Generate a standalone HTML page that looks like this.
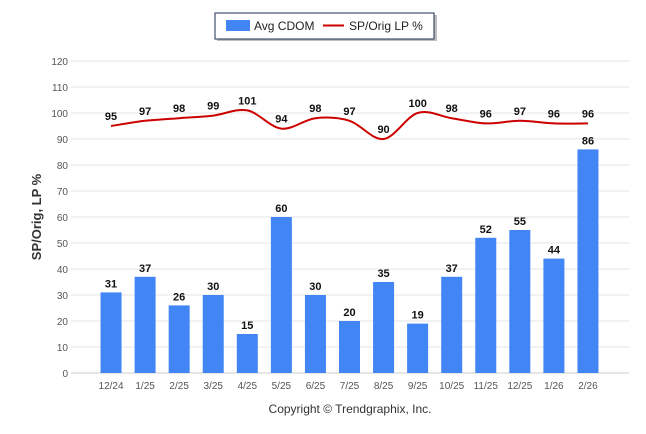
<!DOCTYPE html>
<html><head><meta charset="utf-8"><style>
body{margin:0;background:#fff;font-family:"Liberation Sans",sans-serif}
svg{display:block}
</style></head><body>
<svg id="chart" width="646" height="434">
<g>
<rect x="217" y="15" width="220" height="26" fill="#444" opacity="0.35"/>
<rect x="215" y="13" width="219" height="26" fill="#fff" stroke="#1f2d4f" stroke-width="1"/>
<rect x="226" y="20" width="24" height="11" fill="#4285f4"/>
<text x="254" y="30" font-size="12" fill="#222">Avg CDOM</text>
<line x1="323" y1="25.5" x2="344" y2="25.5" stroke="#c00" stroke-width="2"/>
<text x="349" y="30" font-size="12" fill="#222">SP/Orig LP %</text>
</g>
<text transform="translate(41,217) rotate(-90)" text-anchor="middle" font-size="13" font-weight="bold" fill="#333">SP/Orig, LP %</text>
<text x="350" y="413" text-anchor="middle" font-size="12" fill="#333">Copyright © Trendgraphix, Inc.</text>
<g id="grid"></g><g id="bars"></g><g id="line"></g><g id="labels"></g>
</svg>
<script>
const categories=["12/24","1/25","2/25","3/25","4/25","5/25","6/25","7/25","8/25","9/25","10/25","11/25","12/25","1/26","2/26"];
const cdom=[31,37,26,30,15,60,30,20,35,19,37,52,55,44,86];
const sp=[95,97,98,99,101,94,98,97,90,100,98,96,97,96,96];
const yTicks=[0,10,20,30,40,50,60,70,80,90,100,110,120];
const NS="http://www.w3.org/2000/svg";
const x0=94,x1=605,yTop=61,yBot=373,yMax=120;
const step=(x1-x0)/categories.length;
const xs=i=>x0+step*(i+0.5);
const ys=v=>yBot-(v/yMax)*(yBot-yTop);
function mk(p,t,a){const e=document.createElementNS(NS,t);for(const k in a)e.setAttribute(k,a[k]);document.getElementById(p).appendChild(e);return e;}
yTicks.forEach(v=>{
 const l=mk('grid','line',{x1:71,x2:629,y1:ys(v),y2:ys(v),stroke:v===0?'#ccc':'#e6e6e6','stroke-width':1});
 
 
 const t=mk('grid','text',{x:68,y:ys(v)+4,'text-anchor':'end','font-size':10,fill:'#555'});
 t.textContent=v;
 
 
});
categories.forEach((c,i)=>{
 const t=mk('grid','text',{x:xs(i),y:389,'text-anchor':'middle','font-size':10,fill:'#555'});
 t.textContent=c;
 
 
 const b=mk('bars','rect',{x:xs(i)-10.5,y:ys(cdom[i]),width:21,height:yBot-ys(cdom[i]),fill:'#4285f4'});
 
 
 const bl=mk('labels','text',{x:xs(i),y:ys(cdom[i])-5,'text-anchor':'middle','font-size':11,'font-weight':'bold',fill:'#111'});
 bl.textContent=cdom[i];
 
 
 const ll=mk('labels','text',{x:xs(i),y:ys(sp[i])-6,'text-anchor':'middle','font-size':11,'font-weight':'bold',fill:'#111'});
 ll.textContent=sp[i];
 
 
});
const pts=sp.map((v,i)=>[xs(i),ys(v)]);
let d='M'+pts[0][0]+','+pts[0][1];
for(let i=0;i<pts.length-1;i++){
 const p0=pts[Math.max(0,i-1)],p1=pts[i],p2=pts[i+1],p3=pts[Math.min(pts.length-1,i+2)];
 const k=0.5/3;
 d+=' C'+(p1[0]+(p2[0]-p0[0])*k)+','+(p1[1]+(p2[1]-p0[1])*k)+' '+(p2[0]-(p3[0]-p1[0])*k)+','+(p2[1]-(p3[1]-p1[1])*k)+' '+p2[0]+','+p2[1];
}
const path=mk('line','path',{d:d,fill:'none',stroke:'#c00','stroke-width':2});


</script>
</body></html>
